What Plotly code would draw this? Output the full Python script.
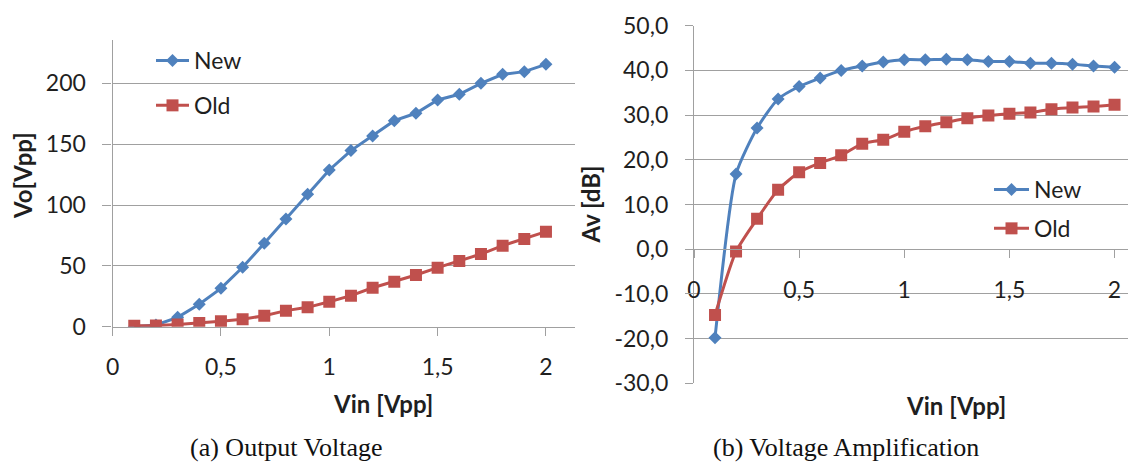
import plotly.graph_objects as go

# Input amplitude sweep (Vpp)
vin = [0.1, 0.2, 0.3, 0.4, 0.5, 0.6, 0.7, 0.8, 0.9, 1.0,
       1.1, 1.2, 1.3, 1.4, 1.5, 1.6, 1.7, 1.8, 1.9, 2.0]

# Output voltage (Vpp)
vo_new = [0.0, 1.4, 7.7, 18.4, 31.5, 48.8, 68.5, 88.5, 108.8, 128.8,
          144.7, 156.7, 169.3, 175.4, 186.3, 191.0, 200.0, 207.4, 209.6, 215.6]
vo_old = [0.8, 0.9, 1.8, 3.0, 4.5, 6.2, 9.0, 13.2, 15.9, 20.5,
          25.5, 32.0, 37.0, 42.5, 48.5, 54.0, 59.7, 66.6, 72.1, 78.1]

# Voltage amplification (dB)
av_new = [-19.8, 16.8, 27.1, 33.6, 36.4, 38.3, 40.0, 41.0, 41.9, 42.4,
          42.4, 42.5, 42.4, 42.0, 42.0, 41.6, 41.6, 41.4, 41.0, 40.7]
av_old = [-14.7, -0.5, 6.8, 13.3, 17.2, 19.3, 21.0, 23.6, 24.5, 26.3,
          27.5, 28.4, 29.3, 29.9, 30.3, 30.6, 31.3, 31.7, 31.9, 32.3]

# Tick labels
vin_ticks = [0, 0.5, 1, 1.5, 2]
vin_tick_text = ["0", "0,5", "1", "1,5", "2"]
vo_ticks = [0, 50, 100, 150, 200]
vo_tick_text = ["0", "50", "100", "150", "200"]
av_ticks = [-30, -20, -10, 0, 10, 20, 30, 40, 50]
av_tick_text = ["-30,0", "-20,0", "-10,0", "0,0", "10,0", "20,0", "30,0", "40,0", "50,0"]

BLUE = "#4F81BD"
RED = "#C0504D"
GRID = "#A0A0A0"
TEXT = "#1F1F1F"
FONT = "Lato"

W, H = 1128, 465


def px_x(p):
    return p / W


def px_y(p):
    return 1 - p / H


fig = go.Figure()

# (a) output voltage
fig.add_trace(go.Scatter(
    x=vin, y=vo_new, name="New", mode="lines+markers",
    line=dict(color=BLUE, width=3),
    marker=dict(symbol="diamond", size=10, color=BLUE),
    xaxis="x", yaxis="y", legend="legend", legendgroup="a_new"))
fig.add_trace(go.Scatter(
    x=vin, y=vo_old, name="Old", mode="lines+markers",
    line=dict(color=RED, width=3),
    marker=dict(symbol="square", size=12, color=RED),
    xaxis="x", yaxis="y", legend="legend", legendgroup="a_old"))

# (b) voltage amplification
fig.add_trace(go.Scatter(
    x=vin, y=av_new, name="New", mode="lines+markers",
    line=dict(color=BLUE, width=3, shape="spline", smoothing=0.6),
    marker=dict(symbol="diamond", size=10, color=BLUE),
    xaxis="x2", yaxis="y2", legend="legend2", legendgroup="b_new"))
fig.add_trace(go.Scatter(
    x=vin, y=av_old, name="Old", mode="lines+markers",
    line=dict(color=RED, width=3, shape="spline", smoothing=0.6),
    marker=dict(symbol="square", size=12, color=RED),
    xaxis="x2", yaxis="y2", legend="legend2", legendgroup="b_old"))

tick_font = dict(family=FONT, size=23, color=TEXT)
axis_common = dict(
    tickfont=tick_font, ticks="outside", tickwidth=1.3, tickcolor=GRID,
    ticklabelstandoff=12, showline=True, linecolor=GRID, linewidth=1.3,
    zeroline=False, fixedrange=True, automargin=False)

fig.update_layout(
    template="none",
    width=W, height=H, autosize=False,
    margin=dict(l=0, r=0, t=0, b=0, pad=0, autoexpand=False),
    paper_bgcolor="white", plot_bgcolor="white",
    font=dict(family=FONT, color=TEXT),
    xaxis=dict(
        domain=[px_x(112.6), px_x(575)], range=[0, 2.134], anchor="y",
        tickvals=vin_ticks, ticktext=vin_tick_text, ticklen=8,
        showgrid=False, **axis_common),
    yaxis=dict(
        domain=[px_y(326.7), px_y(40)], range=[0, 235.6], anchor="x",
        tickvals=vo_ticks, ticktext=vo_tick_text, ticklen=9,
        showgrid=True, gridcolor=GRID, gridwidth=1.3, **axis_common),
    xaxis2=dict(
        domain=[px_x(694), 1.0], range=[0, 2.064],
        anchor="free", position=px_y(249.3),
        tickvals=vin_ticks, ticktext=vin_tick_text, ticklen=8,
        showgrid=False, **axis_common),
    yaxis2=dict(
        domain=[px_y(383.3), px_y(25.7)], range=[-30, 50], anchor="x2",
        tickvals=av_ticks, ticktext=av_tick_text, ticklen=8,
        showgrid=True, gridcolor=GRID, gridwidth=1.3, **axis_common),
    legend=dict(
        x=px_x(151), y=px_y(39), xanchor="left", yanchor="top",
        font=dict(family=FONT, size=23, color=TEXT), itemwidth=33,
        bgcolor="rgba(0,0,0,0)", traceorder="grouped", tracegroupgap=12),
    legend2=dict(
        x=px_x(989), y=px_y(168), xanchor="left", yanchor="top",
        font=dict(family=FONT, size=23, color=TEXT), itemwidth=35,
        bgcolor="rgba(0,0,0,0)", traceorder="grouped", tracegroupgap=6),
    showlegend=True,
)

title_font = dict(family=FONT, size=24, color=TEXT, weight="bold")
caption_font = dict(family="Liberation Serif", size=26, color="#111111")

annotations = [
    dict(text="Vo[Vpp]", x=px_x(23), y=px_y(176), textangle=-90, font=title_font),
    dict(text="Vin [Vpp]", x=px_x(383), y=px_y(403), font=title_font),
    dict(text="Av [dB]", x=px_x(589.5), y=px_y(205), textangle=-90, font=title_font),
    dict(text="Vin [Vpp]", x=px_x(956), y=px_y(405), font=title_font),
    dict(text="(a) Output Voltage", x=px_x(286), y=px_y(447.5), font=caption_font),
    dict(text="(b) Voltage Amplification", x=px_x(845.5), y=px_y(447.5), font=caption_font),
]
for a in annotations:
    a.update(xref="paper", yref="paper", showarrow=False,
             xanchor="center", yanchor="middle")
fig.update_layout(annotations=annotations)

fig.write_html("out.html", config=dict(displayModeBar=False))
